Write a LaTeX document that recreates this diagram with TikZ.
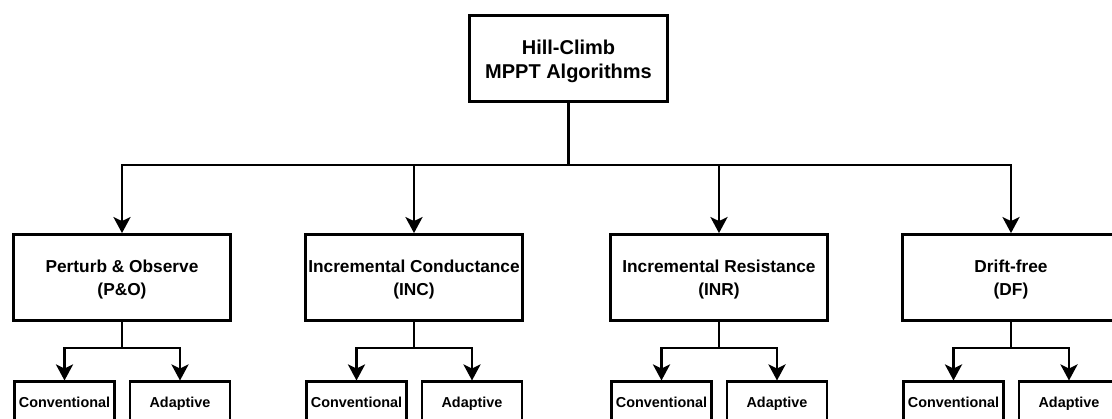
\documentclass[tikz,border=0pt]{standalone}
\usepackage{fontspec}
\setmainfont{Liberation Sans}
\usetikzlibrary{arrows.meta}

\tikzset{
  box/.style={draw=black, line width=2.8pt, fill=white, align=center, inner sep=0pt,
    font=\bfseries},
  rootbox/.style={box, minimum width=198pt, minimum height=86pt},
  roottext/.style={align=center, inner sep=0pt, yshift=-3pt,
    font=\fontsize{20}{24}\selectfont\bfseries},
  methodbox/.style={box, minimum width=217pt, minimum height=86pt},
  methodtext/.style={align=center, inner sep=0pt, yshift=-2.5pt,
    font=\fontsize{17.3}{23}\selectfont\bfseries},
  leafbox/.style={box, minimum width=100pt, minimum height=46pt, anchor=north,
    text height=10.5pt, text depth=4.5pt,
    font=\fontsize{14.4}{17}\selectfont\bfseries},
  link/.style={line width=2.8pt, line join=miter,
    -{Stealth[length=16pt, width=17pt, inset=4pt]}},
  plain/.style={line width=2.8pt}
}

\begin{document}
\begin{tikzpicture}[x=1pt, y=-1pt]
  \useasboundingbox (0,0) rectangle (1112,419);
  \clip (0,0) rectangle (1112,419);

  % root
  \node[rootbox] (root) at (568.5,58.5) {};
  \node[roottext] (root t) at (root) {Hill-Climb\\MPPT Algorithms};

  % algorithm families
  \foreach \n/\x/\t in {po/122/{Perturb \& Observe\\(P\&O)},
                        inc/414/{Incremental Conductance\\(INC)},
                        inr/719/{Incremental Resistance\\(INR)},
                        df/1011/{Drift-free\\(DF)}}{
    \node[methodbox] (\n) at (\x,277.5) {};
    \node[methodtext] (\n t) at (\n) {\t};
  }

  % variants
  \foreach \n/\x in {po/122, inc/414, inr/719, df/1011}{
    \node[leafbox] (\n c) at (\x-57.5,380.5) {Conventional};
    \node[leafbox] (\n a) at (\x+58,380.5) {Adaptive};
  }

  % root to families
  \coordinate (bus) at (root.south |- 0,165);
  \draw[plain] (root.south) -- (bus);
  \foreach \n in {po, inc, inr, df}{
    \draw[link] (bus) -| (\n.north);
  }

  % families to variants
  \foreach \n in {po, inc, inr, df}{
    \coordinate (\n b) at (\n.south |- 0,348);
    \draw[plain] (\n.south) -- (\n b);
    \draw[link] (\n b) -| (\n c.north);
    \draw[link] (\n b) -| (\n a.north);
  }
\end{tikzpicture}
\end{document}
